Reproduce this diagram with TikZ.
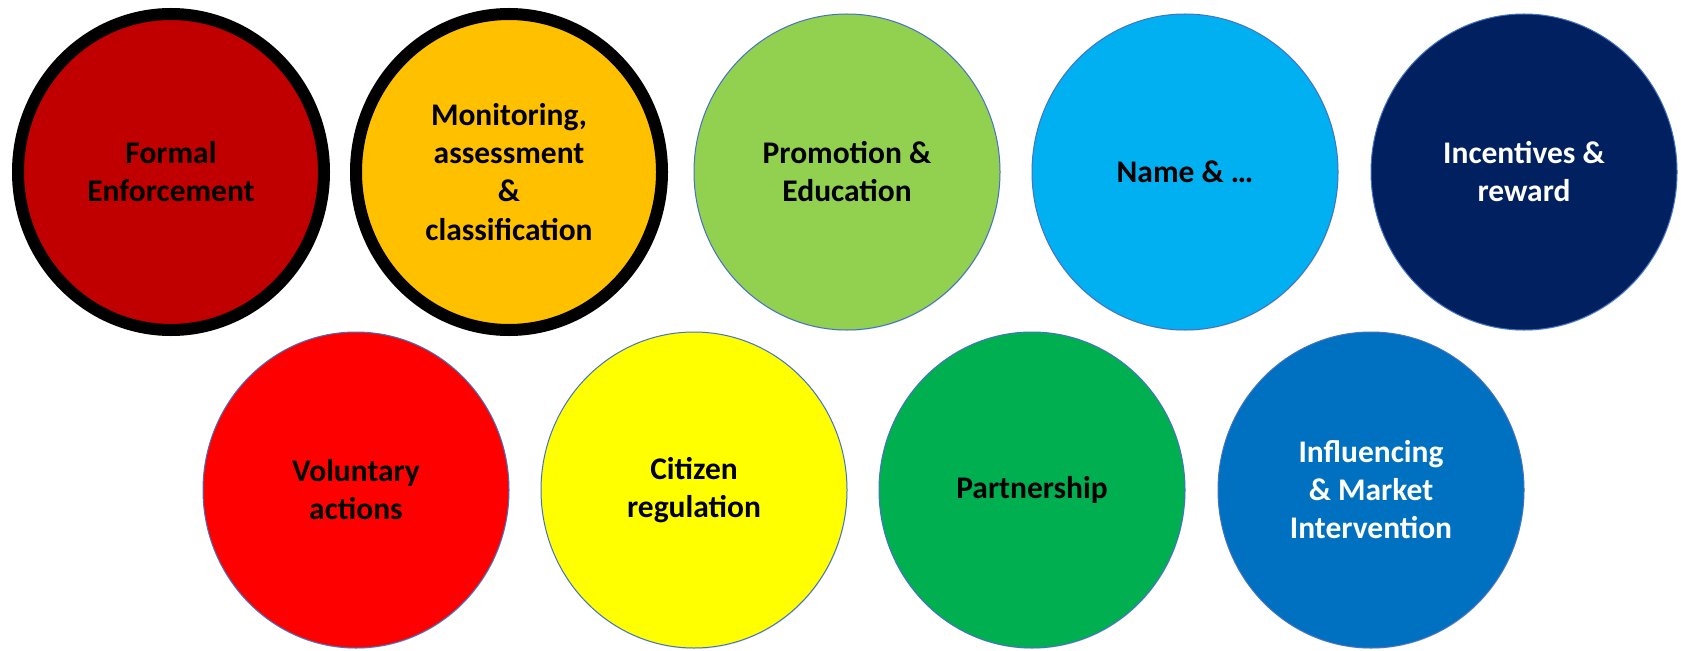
\documentclass[tikz,border=0pt]{standalone}
\usepackage{fontspec}
\setmainfont{Carlito}
\usepackage{tikz}
\usetikzlibrary{shapes.geometric, shadows}
\definecolor{darkRed}{HTML}{C00000}
\definecolor{amber}{HTML}{FFC000}
\definecolor{lightGreen}{HTML}{92D050}
\definecolor{skyBlue}{HTML}{00B0F0}
\definecolor{navy}{HTML}{002060}
\definecolor{pureRed}{HTML}{FF0000}
\definecolor{pureYellow}{HTML}{FFFF00}
\definecolor{midGreen}{HTML}{00B050}
\definecolor{midBlue}{HTML}{0070C0}
\definecolor{rimBlue}{HTML}{4472C4}

\begin{document}
\begin{tikzpicture}[x=1bp, y=-1bp,
    blob/.style={ellipse, draw=rimBlue, line width=1bp, minimum width=306bp, minimum height=316bp,
        inner sep=0pt, align=center, font=\fontsize{31.6}{38.2}\selectfont\bfseries,
        drop shadow={opacity=0.18, shadow xshift=0.5bp, shadow yshift=-1bp}},
    ringed/.style={draw=black, line width=12bp}]
    \useasboundingbox (0,0) rectangle (1681,651);

    % Top row
    \node[blob, ringed, fill=darkRed] (formal) at (171,172) {Formal\\Enforcement};
    \node[blob, ringed, fill=amber] (monitor) at (509,172) {Monitoring,\\assessment\\\&\\classification};
    \node[blob, fill=lightGreen] (promo) at (847,172) {Promotion \&\\Education};
    \node[blob, fill=skyBlue] (shame) at (1185,172) {Name \& …};
    \node[blob, fill=navy, text=white] (reward) at (1524,172) {Incentives \&\\reward};

    % Bottom row
    \node[blob, fill=pureRed] (volun) at (356,490) {Voluntary\\actions};
    \node[blob, fill=pureYellow] (citizen) at (694,490) {Citizen\\regulation};
    \node[blob, fill=midGreen] (partner) at (1032,490) {Partnership};
    \node[blob, fill=midBlue, text=white] (market) at (1371,490) {Influencing\\\& Market\\Intervention};
\end{tikzpicture}
\end{document}
